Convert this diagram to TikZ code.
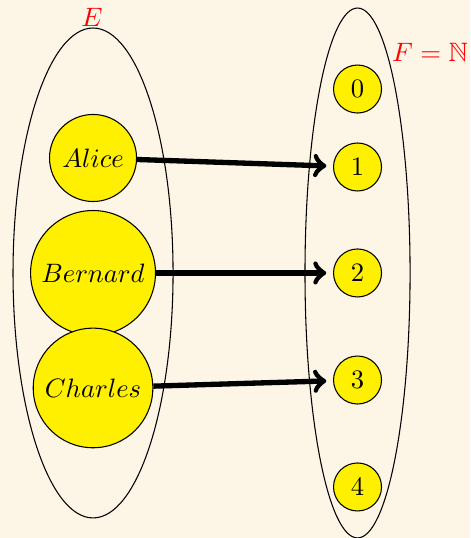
\documentclass[tikz,border=0pt]{standalone}
\usepackage{amsmath}
\usepackage{amssymb}
\usepackage{tikz}
\usetikzlibrary{positioning, arrows.meta}

\definecolor{fondo}{RGB}{253,245,230}
\definecolor{giallo}{RGB}{255,240,0}

\begin{document}
\begin{tikzpicture}[
    >=to,
    on grid,
    % Stile per gli elementi
    elem/.style={circle, draw, fill=giallo, inner sep=0pt, align=center},
    num/.style={elem, minimum size=0.634cm},
    insieme/.style={draw, thin},
    etichetta/.style={text=red}
]

    % Sfondo e dimensioni
    \fill[fondo] (0,0) rectangle (6.209,7.107);
    \useasboundingbox (0,0) rectangle (6.209,7.107);

    % Elementi di E
    \node[elem, minimum size=1.65cm] (bernard) at (1.229,3.501) {$Bernard$};
    \node[elem, minimum size=1.15cm] (alice) [above=1.519cm of bernard] {$Alice$};
    \node[elem, minimum size=1.58cm] (charles) [below=1.519cm of bernard] {$Charles$};

    % Elementi di F
    \node[num] (n2) [right=3.494cm of bernard] {$2$};
    \node[num] (n1) [above=1.40cm of n2] {$1$};
    \node[num] (n0) [above=1.03cm of n1] {$0$};
    \node[num] (n3) [below=1.414cm of n2] {$3$};
    \node[num] (n4) [below=1.413cm of n3] {$4$};

    % Insiemi
    \draw[insieme] (bernard.center) ellipse [x radius=1.057cm, y radius=3.236cm];
    \draw[insieme] (n2.center) ellipse [x radius=0.694cm, y radius=3.50cm];

    % Nomi degli insiemi
    \node[etichetta] (nomeE) at (1.215,6.88) {$E$};
    \node[etichetta] (nomeF) at (5.68,6.42) {$F=\mathbb{N}$};

    % Frecce
    \path[->, line width=2pt, shorten >=2.5pt]
        (alice) edge (n1)
        (bernard) edge (n2)
        (charles) edge (n3)
        ;

\end{tikzpicture}
\end{document}
